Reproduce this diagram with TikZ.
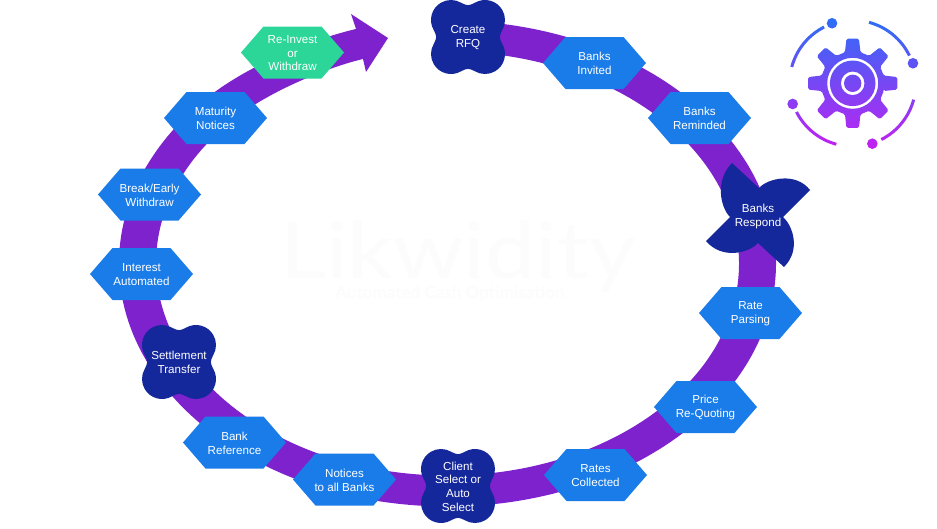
\documentclass[tikz,border=0pt]{standalone}
\usepackage{fontspec}
\setmainfont{Liberation Sans}
\newfontfamily\wmfont{Lato}
\definecolor{band}{HTML}{7E22CE}
\definecolor{hexblue}{HTML}{1A7CE8}
\definecolor{navy}{HTML}{14279B}
\definecolor{mint}{HTML}{2BD698}
\definecolor{gearTop}{HTML}{2A6FF6}
\definecolor{gearBot}{HTML}{C41FF2}
\tikzset{
  lbl/.style={text=white,align=center,font=\fontsize{11.6}{13.7}\selectfont,inner sep=0pt},
  hexshape/.style={fill=hexblue},
  mintshape/.style={fill=mint},
  foilshape/.style={fill=navy},
  ghost/.style={text=black!1,inner sep=0pt},
}
\newcommand{\hexa}[4][hexshape]{%
  \begin{scope}[shift={(#3)}]
    \fill[#1] (-51.5,0)--(-29,-26)--(29,-26)--(51.5,0)--(29,26)--(-29,26)--cycle;
    \node[lbl] (#2) at (0,0.6) {#4};
  \end{scope}}
\newcommand{\foil}[3]{%
  \begin{scope}[shift={(#2)},yscale=-1]
    \fill[foilshape] (0,31.8)
      .. controls (2.5,31.8) and (4,33) .. (7,34.32)
      arc[start angle=120,end angle=-30,radius=20]
      .. controls (33,4) and (31.8,2.5) .. (31.8,0)
      .. controls (31.8,-2.5) and (33,-4) .. (34.32,-7)
      arc[start angle=30,end angle=-120,radius=20]
      .. controls (4,-33) and (2.5,-31.8) .. (0,-31.8)
      .. controls (-2.5,-31.8) and (-4,-33) .. (-7,-34.32)
      arc[start angle=-60,end angle=-210,radius=20]
      .. controls (-33,-4) and (-31.8,-2.5) .. (-31.8,0)
      .. controls (-31.8,2.5) and (-33,4) .. (-34.32,7)
      arc[start angle=-150,end angle=-300,radius=20]
      .. controls (-4,33) and (-2.5,31.8) .. (0,31.8) -- cycle;
    \node[lbl] (#1) at (0,-0.6) {#3};
  \end{scope}}
\begin{document}
\begin{tikzpicture}[x=1pt,y=-1pt]
\useasboundingbox (0,0) rectangle (937,528);
\fill[white] (0,0) rectangle (937,528);
% watermark
\node[ghost,font=\wmfont\fontsize{78}{78}\selectfont,anchor=base west,xscale=1.15] (wm) at (280,278) {Likwidity};
\node[ghost,font=\wmfont\bfseries\fontsize{17}{18}\selectfont,anchor=base] (wmsub) at (450,298) {Automated Cash Optimisation};
% ring with arrowhead
\begin{scope}[shift={(447.5,263.5)},yscale=-1]
\fill[band] ({328.5*cos(86)},{243*sin(86)})
  arc[start angle=86,end angle=-225,x radius=328.5,y radius=243]
  .. controls (-193.6,200.1) and (-135.3,224.3) .. (-91.5,234.5)
  -- (-96.5,249.5) -- (-59.5,225.5) -- (-81.5,191.5) -- (-84.5,204.5)
  .. controls (-118.6,196.5) and (-172,174.7) .. (-206.1,149.9)
  arc[start angle=-225,end angle=86,x radius=291.5,y radius=212]
  -- cycle;
\end{scope}
% pinwheel
\fill[navy] (732,163)--(759,188)
  .. controls (768,178) and (796,172) .. (810,190)
  -- (783,217)
  .. controls (793,226) and (801,250) .. (784,267)
  -- (758,243)
  .. controls (749,253) and (722,260) .. (706,241)
  -- (730,217)
  .. controls (720,207) and (715,180) .. (732,163) -- cycle;
\node[lbl] (respond) at (758,216.5) {Banks\\Respond};
% foils
\foil{rfq}{468,37}{Create\\RFQ}
\foil{settle}{179,362}{Settlement\\Transfer}
\foil{client}{458,486}{Client\\Select or\\Auto\\Select}
% hexagons
\hexa[mintshape]{reinvest}{292.5,52.5}{Re-Invest\\or\\Withdraw}
\hexa{invited}{594.5,63}{Banks\\Invited}
\hexa{reminded}{699.5,118}{Banks\\Reminded}
\hexa{parsing}{750.5,313}{Rate\\Parsing}
\hexa{price}{705.5,407}{Price\\Re-Quoting}
\hexa{rates}{595.5,475}{Rates\\Collected}
\hexa{notices}{344.5,479.5}{Notices\\to all Banks}
\hexa{bankref}{234.5,442.5}{Bank\\Reference}
\hexa{interest}{141.5,274}{Interest\\Automated}
\hexa{break}{149.5,194.5}{Break/Early\\Withdraw}
\hexa{maturity}{215.5,118}{Maturity\\Notices}
% gear icon
\begin{scope}[shift={(852.7,83.3)},yscale=-1]
\shade[even odd rule,top color=gearTop,bottom color=gearBot]
  % gear outline
  [rounded corners=1.5pt] (-14:32)
  \foreach \a in {0,45,...,315} {
    -- ({\a-14}:32) -- ({\a-8}:45) -- ({\a+8}:45) -- ({\a+14}:32)
  } -- cycle
  [sharp corners]
  (0,0) circle (25.5) (0,0) circle (22.8)
  (0,0) circle (11.8) (0,0) circle (8.7)
  % arcs
  (165:61.6) arc[start angle=165,end angle=117,radius=61.6] -- (117:64.6) arc[start angle=117,end angle=165,radius=64.6] -- cycle
  (75:61.6) arc[start angle=75,end angle=26,radius=61.6] -- (26:64.6) arc[start angle=26,end angle=75,radius=64.6] -- cycle
  (-15:61.6) arc[start angle=-15,end angle=-63,radius=61.6] -- (-63:64.6) arc[start angle=-63,end angle=-15,radius=64.6] -- cycle
  (255:61.6) arc[start angle=255,end angle=207,radius=61.6] -- (207:64.6) arc[start angle=207,end angle=255,radius=64.6] -- cycle
  % dots
  (109:63.5) circle (5.3) (18.4:63.5) circle (5.3) (-72:63.5) circle (5.3) (199:63.5) circle (5.3);
\end{scope}
\end{tikzpicture}
\end{document}
